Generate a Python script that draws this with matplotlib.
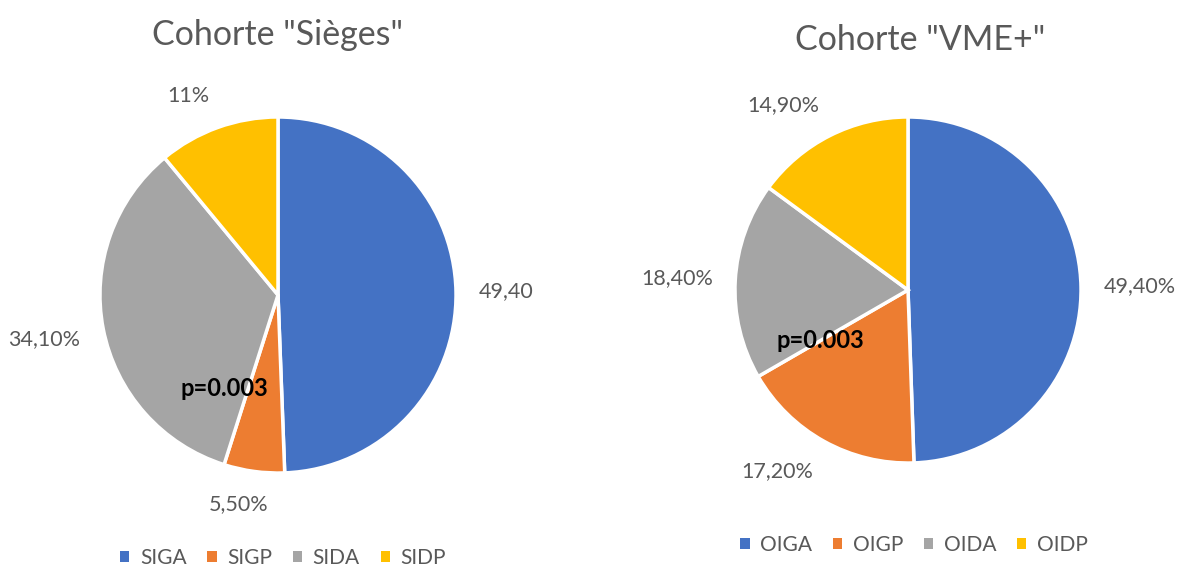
import numpy as np
import matplotlib.pyplot as plt
from matplotlib.patches import Patch

plt.rcParams['font.family'] = ['Lato', 'DejaVu Sans']

# Données
couleurs = ['#4472C4', '#ED7D31', '#A5A5A5', '#FFC000']

sieges_noms = ['SIGA', 'SIGP', 'SIDA', 'SIDP']
sieges_vals = [49.4, 5.5, 34.1, 11.0]
sieges_etiq = ['49,40', '5,50%', '34,10%', '11%']

vme_noms = ['OIGA', 'OIGP', 'OIDA', 'OIDP']
vme_vals = [49.4, 17.2, 18.4, 14.9]
vme_etiq = ['49,40%', '17,20%', '18,40%', '14,90%']

p_valeur = 'p=0.003'

W, H = 1187, 568
gris = '#595959'

fig = plt.figure(figsize=(W / 100, H / 100), dpi=100)
ax = fig.add_axes([0, 0, 1, 1])
camemberts = []


def camembert(vals, etiq, centre, rayon):
    wedges, textes = ax.pie(vals, labels=etiq, colors=couleurs, startangle=90,
                            counterclock=False, center=centre, radius=rayon,
                            explode=[0.02] * len(vals),
                            wedgeprops=dict(edgecolor='white', linewidth=2.5),
                            textprops=dict(fontsize=15.5, color=gris))
    camemberts.append((wedges, textes, centre, rayon))
    return [Patch(facecolor=w.get_facecolor()) for w in wedges]


# Cohorte "Sièges"
h1 = camembert(sieges_vals, sieges_etiq, (278, H - 295), 178)
# Cohorte "VME+"
h2 = camembert(vme_vals, vme_etiq, (908, H - 290), 173)

ax.set_xlim(0, W)
ax.set_ylim(0, H)
ax.set_aspect('equal')
ax.axis('off')

# étiquettes placées à l'extérieur, à la façon d'Excel
rend = fig.canvas.get_renderer()
for wedges, textes, centre, rayon in camemberts:
    d = 1.13 * rayon
    for w, t in zip(wedges, textes):
        a = np.deg2rad((w.theta1 + w.theta2) / 2)
        bb = t.get_window_extent(rend)
        fx = np.clip(3 * np.cos(a), -1, 1)
        fy = np.clip(3 * np.sin(a), -1, 1)
        t.set_position((centre[0] + d * np.cos(a) + fx * bb.width / 2,
                        centre[1] + d * np.sin(a) + fy * bb.height / 2))
        t.set_ha('center')
        t.set_va('center')

ax.text(278, H - 35, 'Cohorte "Sièges"', ha='center', va='center', fontsize=24.5, color=gris)
ax.text(224, H - 388, p_valeur, ha='center', va='center', fontsize=17, fontweight='bold', color='black')
fig.legend(h1, sieges_noms, loc='center', bbox_to_anchor=(283 / W, 1 - 558 / H), ncol=4,
           frameon=False, fontsize=15, labelcolor=gris, handlelength=0.45, handleheight=0.45,
           handletextpad=0.5, columnspacing=1.0)

ax.text(920, H - 40, 'Cohorte "VME+"', ha='center', va='center', fontsize=24.5, color=gris)
ax.text(820, H - 340, p_valeur, ha='center', va='center', fontsize=17, fontweight='bold', color='black')
fig.legend(h2, vme_noms, loc='center', bbox_to_anchor=(914 / W, 1 - 545 / H), ncol=4,
           frameon=False, fontsize=15, labelcolor=gris, handlelength=0.45, handleheight=0.45,
           handletextpad=0.5, columnspacing=1.0)

fig.savefig('out.png', dpi=100)
